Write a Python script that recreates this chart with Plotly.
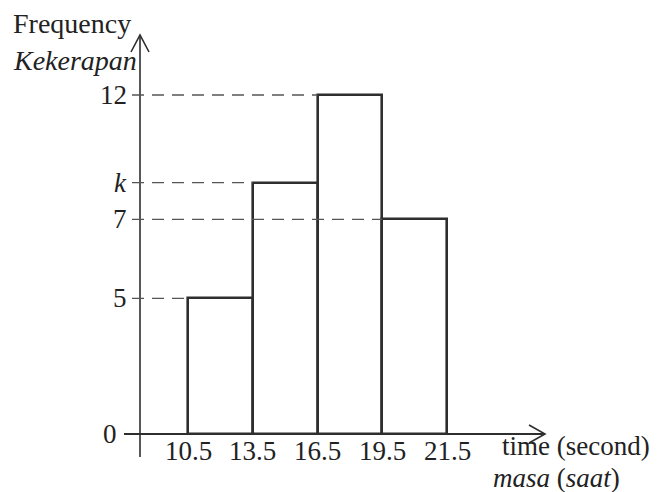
import plotly.graph_objects as go

# ---- data (schematic histogram, equal-width classes) ----
boundary_labels = ["10.5", "13.5", "16.5", "19.5", "21.5"]
class_index = [0, 1, 2, 3]               # class i spans boundary i .. i+1
freq_drawn = [4.8, 8.9, 12.0, 7.6]        # bar heights as drawn on the diagram scale
freq_labels = ["5", "<i>k</i>", "12", "7"]
dash_end_boundary = [0, 1, 2, 3]          # dashed guide ends at bar's left edge

# screen pixel -> data helpers for layout decoration (page body has an 8px margin)
W, H = 663, 492
OFF = 8
PX_PER_X, X0_PX = 64.75, 188.0
PX_PER_Y, Y0_PX = 28.25, 434.0
def X(px): return (px - X0_PX) / PX_PER_X
def Y(py): return (Y0_PX - py) / PX_PER_Y

LINE = "#2e2e2e"
FONT = "Liberation Serif, Times New Roman, serif"

fig = go.Figure()
fig.add_trace(go.Bar(
    x=[i + 0.5 for i in class_index], y=freq_drawn, width=1.0,
    marker=dict(color="rgba(0,0,0,0)", line=dict(color=LINE, width=2.6)),
    showlegend=False, hoverinfo="skip",
))

shapes = []
# y axis with open arrow head
ax_x = X(140)
shapes.append(dict(type="line", x0=ax_x, x1=ax_x, y0=Y(457), y1=Y(35),
                   line=dict(color=LINE, width=1.6)))
shapes.append(dict(type="path",
                   path=f"M {X(131)} {Y(52)} L {ax_x} {Y(35)} L {X(149)} {Y(52)}",
                   line=dict(color=LINE, width=1.6)))
# x axis with open arrow head
shapes.append(dict(type="line", x0=X(124), x1=X(545), y0=0, y1=0,
                   line=dict(color=LINE, width=1.8)))
shapes.append(dict(type="path",
                   path=f"M {X(529)} {Y(425)} L {X(545)} 0 L {X(529)} {Y(443)}",
                   line=dict(color=LINE, width=1.6)))
# dashed guides
for h, b in zip(freq_drawn, dash_end_boundary):
    shapes.append(dict(type="line", x0=X(132), x1=b, y0=h, y1=h,
                       line=dict(color="#555555", width=1.3, dash="12px,8px")))

ann = []
for h, t in zip(freq_drawn, freq_labels):
    ann.append(dict(x=X(129), y=h, text=t, showarrow=False, xanchor="right",
                    yanchor="middle", font=dict(size=27, family=FONT, color="#222")))
ann.append(dict(x=X(119), y=0, text="0", showarrow=False, xanchor="right",
                yanchor="middle", font=dict(size=27, family=FONT, color="#222")))
for i, t in enumerate(boundary_labels):
    ann.append(dict(x=i, y=Y(451), text=t, showarrow=False, xanchor="center",
                    yanchor="middle", font=dict(size=27, family=FONT, color="#222")))
ann.append(dict(x=X(500), y=Y(446), text="time (second)", showarrow=False,
                xanchor="left", yanchor="middle",
                font=dict(size=27, family=FONT, color="#222")))
ann.append(dict(x=X(491), y=Y(478), text="<i>masa</i> (<i>saat</i>)", showarrow=False,
                xanchor="left", yanchor="middle",
                font=dict(size=27, family=FONT, color="#222")))
ann.append(dict(x=X(11), y=Y(23), text="Frequency", showarrow=False,
                xanchor="left", yanchor="middle",
                font=dict(size=28, family=FONT, color="#222")))
ann.append(dict(x=X(11), y=Y(60), text="<i>Kekerapan</i>", showarrow=False,
                xanchor="left", yanchor="middle",
                font=dict(size=28, family=FONT, color="#222")))

fig.update_layout(
    width=W, height=H, margin=dict(l=0, r=0, t=0, b=0),
    paper_bgcolor="white", plot_bgcolor="white",
    shapes=shapes, annotations=ann,
    xaxis=dict(range=[X(OFF), X(OFF + W)], visible=False, fixedrange=True),
    yaxis=dict(range=[Y(OFF + H), Y(OFF)], visible=False, fixedrange=True),
    bargap=0,
)
fig.write_html("out.html")
